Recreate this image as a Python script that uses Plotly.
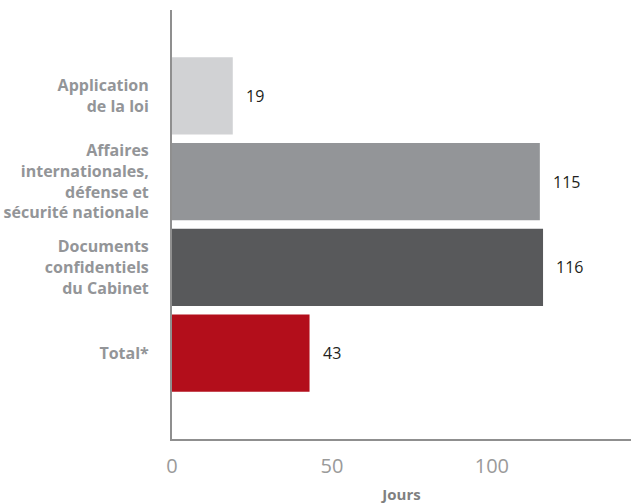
import plotly.graph_objects as go

categories = [
    "Application<br>de la loi",
    "Affaires<br>internationales,<br>défense et<br>sécurité nationale",
    "Documents<br>confidentiels<br>du Cabinet",
    "Total*",
]
values = [19, 115, 116, 43]
colors = ["#d1d2d4", "#939598", "#58595b", "#b30e1b"]
x_ticks = [0, 50, 100]

fig = go.Figure()
fig.add_trace(go.Bar(
    y=categories, x=values, orientation="h",
    marker=dict(color=colors, line=dict(width=0)),
    width=0.9, showlegend=False, hoverinfo="skip",
))

for cat, val in zip(categories, values):
    fig.add_annotation(
        x=val, y=cat, text=str(val), showarrow=False,
        xanchor="left", yanchor="middle", xshift=11,
        font=dict(family="Open Sans", size=16, color="#231f20"),
    )

fig.update_layout(
    width=631, height=504,
    margin=dict(l=172, r=0, t=10, b=65),
    paper_bgcolor="white", plot_bgcolor="white",
    bargap=0.1,
)
fig.update_xaxes(
    range=[0, 143.5], tickvals=x_ticks, ticktext=[str(t) for t in x_ticks],
    showgrid=False, zeroline=False,
    showline=True, linecolor="#8f8f8f", linewidth=2,
    ticks="", ticklabelstandoff=8,
    tickfont=dict(family="Open Sans", size=20, color="#9a9a9a"),
    title=dict(text="<b>Jours</b>", standoff=14,
               font=dict(family="Open Sans", size=15, color="#808080")),
)
fig.update_yaxes(
    range=[4, -1], categoryorder="array", categoryarray=categories,
    showgrid=False, zeroline=False,
    showline=True, linecolor="#8f8f8f", linewidth=2,
    ticks="", ticklabelstandoff=18,
    tickfont=dict(family="Open Sans", size=16, color="#939598", weight="bold"),
)

fig.write_html("out.html")
